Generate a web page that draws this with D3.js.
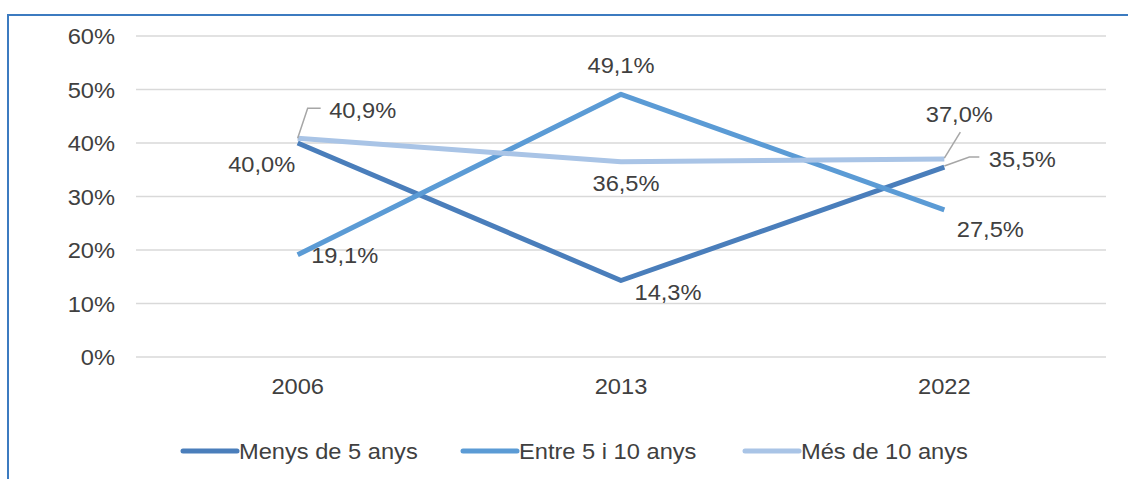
<!DOCTYPE html>
<html>
<head>
<meta charset="utf-8">
<script src="https://cdn.jsdelivr.net/npm/d3@7"></script>
<style>
body{margin:0;background:#fff;}
text{font-family:"Liberation Sans",Arial,sans-serif;fill:#404040;font-size:21.5px;}
</style>
</head>
<body>
<svg id="chart" width="1128" height="479"></svg>
<script>
// data
const years = ["2006","2013","2022"];
const seriesNames = ["Menys de 5 anys","Entre 5 i 10 anys","Més de 10 anys"];
const menys5 = [40.0, 14.3, 35.5];
const entre5i10 = [19.1, 49.1, 27.5];
const mes10 = [40.9, 36.5, 37.0];
const yTicks = [0,10,20,30,40,50,60];

const colors = ["#4a7ebb","#5b9bd5","#a9c4e6"];
const allSeries = [menys5, entre5i10, mes10];

const svg = d3.select("#chart");

// text is a bit wide in the original, stretch horizontally
function addText(g, x, y, str, anchor){
  return g.append("text")
    .attr("transform",`translate(${x},${y}) scale(1.1,1)`)
    .attr("text-anchor",anchor||"middle")
    .text(str);
}

// frame
svg.append("path")
  .attr("d","M8,479 L8,15 L1128,15")
  .attr("fill","none").attr("stroke","#3c7bc0").attr("stroke-width",2);

const x = d3.scalePoint().domain(years).range([136,1106]).padding(0.5);
const y = d3.scaleLinear().domain([0,60]).range([357,36]);

// grid
svg.append("g").selectAll("line").data(yTicks).join("line")
  .attr("x1",136).attr("x2",1106)
  .attr("y1",d=>y(d)).attr("y2",d=>y(d))
  .attr("stroke","#d9d9d9").attr("stroke-width",1.5);

const axG = svg.append("g");
yTicks.forEach(t=>addText(axG,115,y(t)+8,t+"%","end"));
years.forEach(yr=>addText(axG,x(yr),394,yr,"middle"));

// lines
const line = d3.line().x((d,i)=>x(years[i])).y(d=>y(d));
svg.append("g").selectAll("path").data(allSeries).join("path")
  .attr("d",line)
  .attr("fill","none")
  .attr("stroke",(d,i)=>colors[i])
  .attr("stroke-width",5)
  .attr("stroke-linejoin","round");

// data labels: center offsets from point
const fmt = v => v.toFixed(1).replace(".",",")+"%";
const labelOffsets = [
  [[-36,21.5],[47,12],[78,-7.6]],
  [[47,0.7],[0,-29],[46,20]],
  [[65,-27.7],[5,22],[15,-44.5]]
];
const leaders = [
  [null,null,[[0,-1],[25,-10],[35,-10]]],
  [null,null,null],
  [[[0,0],[10,-30],[23,-30]],null,[[0,-1],[16,-27]]]
];
const lblG = svg.append("g");
allSeries.forEach((s,si)=>{
  s.forEach((v,i)=>{
    const px = x(years[i]), py = y(v);
    const ld = leaders[si][i];
    if(ld){
      lblG.append("path")
        .attr("d",d3.line()(ld.map(p=>[px+p[0],py+p[1]])))
        .attr("fill","none").attr("stroke","#a6a6a6").attr("stroke-width",1.5);
    }
    addText(lblG, px+labelOffsets[si][i][0], py+labelOffsets[si][i][1]+7.5, fmt(v), "middle");
  });
});

// legend
const legX = [183,463,745];
const leg = svg.append("g").selectAll("g").data(seriesNames).join("g")
  .attr("transform",(d,i)=>`translate(${legX[i]},451)`);
leg.append("line").attr("x1",0).attr("x2",54).attr("y1",0).attr("y2",0)
  .attr("stroke",(d,i)=>colors[i]).attr("stroke-width",5).attr("stroke-linecap","round");
leg.append("text")
  .attr("transform","translate(56,7.5) scale(1.1,1)")
  .text(d=>d);
</script>
</body>
</html>
